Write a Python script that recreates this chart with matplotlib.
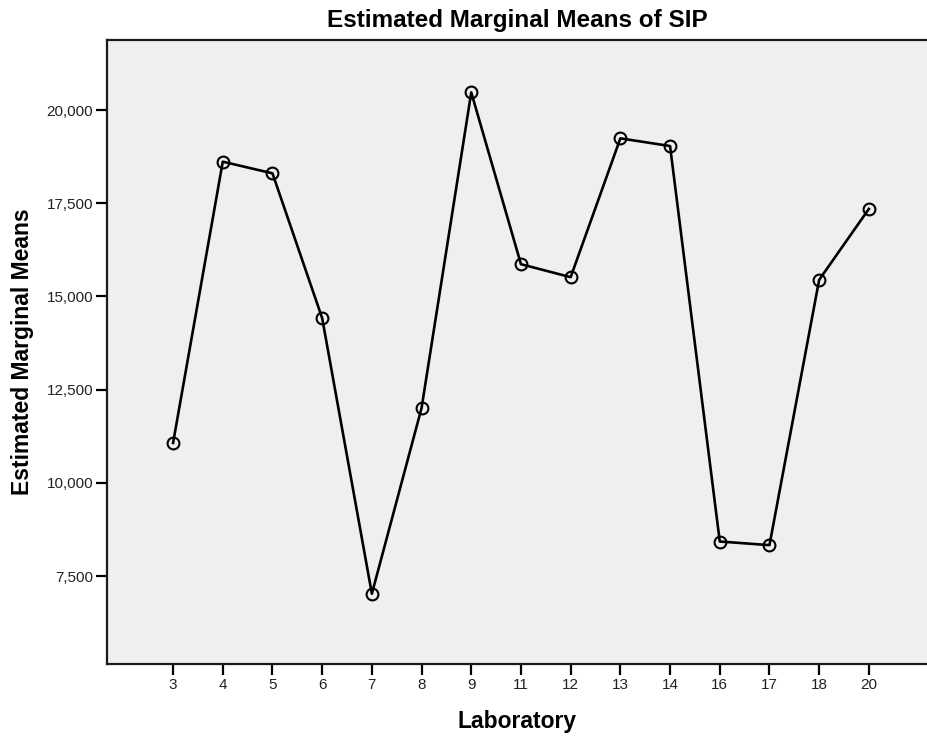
import matplotlib.pyplot as plt
from matplotlib.ticker import FuncFormatter, FixedLocator

# laboratory codes and estimated marginal means of SIP
laboratories = ["3", "4", "5", "6", "7", "8", "9", "11", "12", "13", "14", "16", "17", "18", "20"]
sip_means = [11070, 18615, 18303, 14418, 7025, 12007, 20474, 15865, 15517,
             19241, 19035, 8426, 8328, 15445, 17348]
y_ticks = [7500, 10000, 12500, 15000, 17500, 20000]

plt.rcParams['font.family'] = ['Liberation Sans', 'DejaVu Sans']

fig = plt.figure(figsize=(9.27, 7.39), dpi=100)
ax = fig.add_axes([0.1154, 0.1015, 0.8846, 0.8444])
ax.set_facecolor('#efefef')

ax.plot(laboratories, sip_means, color='black', linewidth=1.9,
        marker='o', markersize=8.5, markerfacecolor='none',
        markeredgecolor='black', markeredgewidth=1.5, zorder=3)

ax.set_xlim(-1.33, 15.17)
ax.set_ylim(5140, 21880)
ax.yaxis.set_major_locator(FixedLocator(y_ticks))
ax.yaxis.set_major_formatter(FuncFormatter(lambda v, p: f"{v:,.0f}"))

for side in ['left', 'bottom', 'top']:
    ax.spines[side].set_linewidth(1.6)
    ax.spines[side].set_color('#1a1a1a')
ax.spines['right'].set_visible(False)

ax.tick_params(axis='both', length=8, width=1.6, color='black',
               labelsize=11, labelcolor='#222222', pad=2)

ax.set_title("Estimated Marginal Means of SIP", fontsize=17.5,
             fontweight='bold', pad=9)
ax.set_xlabel("Laboratory", fontsize=16.5, fontweight='bold', labelpad=13)
ax.set_ylabel("Estimated Marginal Means", fontsize=16.5, fontweight='bold',
              labelpad=9)

fig.savefig("out.png", dpi=100)
